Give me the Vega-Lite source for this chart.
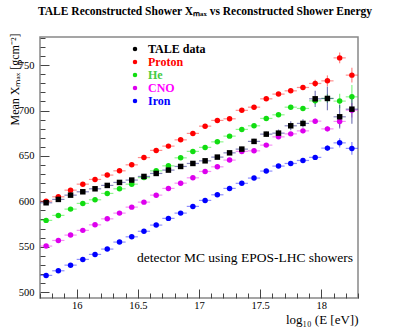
{
  "$schema": "https://vega.github.io/schema/vega-lite/v6.json",
  "width": 318,
  "height": 261,
  "autosize": "none",
  "padding": {"left": 40, "top": 37, "right": 40, "bottom": 34},
  "background": "white",
  "config": {
    "view": {"stroke": "#888888", "strokeWidth": 1.5},
    "font": "Liberation Serif"
  },
  "title": {
    "text": "TALE Reconstructed Shower Xₘₐₓ vs Reconstructed Shower Energy",
    "font": "Liberation Serif",
    "fontWeight": "bold",
    "fontSize": 11.5,
    "anchor": "middle",
    "dx": 6,
    "offset": 16,
    "color": "black"
  },
  "data": {
    "values": [
      {"s":"Proton","E":15.75,"X":600.2,"err":1.2,"dE":0.05},
      {"s":"Proton","E":15.85,"X":605.0,"err":1.2,"dE":0.05},
      {"s":"Proton","E":15.95,"X":612.3,"err":1.2,"dE":0.05},
      {"s":"Proton","E":16.05,"X":618.9,"err":1.2,"dE":0.05},
      {"s":"Proton","E":16.15,"X":624.1,"err":1.2,"dE":0.05},
      {"s":"Proton","E":16.25,"X":628.9,"err":1.2,"dE":0.05},
      {"s":"Proton","E":16.35,"X":633.6,"err":1.2,"dE":0.05},
      {"s":"Proton","E":16.45,"X":640.2,"err":1.2,"dE":0.05},
      {"s":"Proton","E":16.55,"X":648.2,"err":1.2,"dE":0.05},
      {"s":"Proton","E":16.65,"X":656.1,"err":1.2,"dE":0.05},
      {"s":"Proton","E":16.75,"X":660.8,"err":1.2,"dE":0.05},
      {"s":"Proton","E":16.85,"X":667.7,"err":1.2,"dE":0.05},
      {"s":"Proton","E":16.95,"X":674.8,"err":1.2,"dE":0.05},
      {"s":"Proton","E":17.05,"X":682.8,"err":1.5,"dE":0.05},
      {"s":"Proton","E":17.15,"X":689.1,"err":1.5,"dE":0.05},
      {"s":"Proton","E":17.25,"X":690.9,"err":1.5,"dE":0.05},
      {"s":"Proton","E":17.35,"X":700.2,"err":1.5,"dE":0.05},
      {"s":"Proton","E":17.45,"X":703.7,"err":1.5,"dE":0.05},
      {"s":"Proton","E":17.55,"X":712.9,"err":1.5,"dE":0.05},
      {"s":"Proton","E":17.65,"X":718.1,"err":2,"dE":0.05},
      {"s":"Proton","E":17.75,"X":721.7,"err":2,"dE":0.05},
      {"s":"Proton","E":17.85,"X":725.4,"err":2.5,"dE":0.05},
      {"s":"Proton","E":17.95,"X":729.8,"err":4,"dE":0.05},
      {"s":"Proton","E":18.05,"X":732.7,"err":6,"dE":0.05},
      {"s":"Proton","E":18.15,"X":758.0,"err":6,"dE":0.05},
      {"s":"Proton","E":18.25,"X":739.0,"err":8,"dE":0.05},
      {"s":"He","E":15.75,"X":579.0,"err":1.2,"dE":0.05},
      {"s":"He","E":15.85,"X":584.5,"err":1.2,"dE":0.05},
      {"s":"He","E":15.95,"X":591.4,"err":1.2,"dE":0.05},
      {"s":"He","E":16.05,"X":597.7,"err":1.2,"dE":0.05},
      {"s":"He","E":16.15,"X":601.7,"err":1.2,"dE":0.05},
      {"s":"He","E":16.25,"X":608.7,"err":1.2,"dE":0.05},
      {"s":"He","E":16.35,"X":613.8,"err":1.2,"dE":0.05},
      {"s":"He","E":16.45,"X":618.9,"err":1.2,"dE":0.05},
      {"s":"He","E":16.55,"X":626.1,"err":1.2,"dE":0.05},
      {"s":"He","E":16.65,"X":633.6,"err":1.2,"dE":0.05},
      {"s":"He","E":16.75,"X":639.1,"err":1.2,"dE":0.05},
      {"s":"He","E":16.85,"X":647.9,"err":1.2,"dE":0.05},
      {"s":"He","E":16.95,"X":655.0,"err":1.2,"dE":0.05},
      {"s":"He","E":17.05,"X":659.4,"err":1.5,"dE":0.05},
      {"s":"He","E":17.15,"X":665.5,"err":1.5,"dE":0.05},
      {"s":"He","E":17.25,"X":671.8,"err":1.5,"dE":0.05},
      {"s":"He","E":17.35,"X":679.2,"err":1.5,"dE":0.05},
      {"s":"He","E":17.45,"X":683.2,"err":1.5,"dE":0.05},
      {"s":"He","E":17.55,"X":691.3,"err":1.5,"dE":0.05},
      {"s":"He","E":17.65,"X":695.3,"err":2,"dE":0.05},
      {"s":"He","E":17.75,"X":703.7,"err":2,"dE":0.05},
      {"s":"He","E":17.85,"X":702.3,"err":2.5,"dE":0.05},
      {"s":"He","E":17.95,"X":710.7,"err":4,"dE":0.05},
      {"s":"He","E":18.05,"X":713.3,"err":5,"dE":0.05},
      {"s":"He","E":18.15,"X":710.4,"err":8,"dE":0.05},
      {"s":"He","E":18.25,"X":715.1,"err":13,"dE":0.05},
      {"s":"CNO","E":15.75,"X":550.7,"err":1.2,"dE":0.05},
      {"s":"CNO","E":15.85,"X":556.9,"err":1.2,"dE":0.05},
      {"s":"CNO","E":15.95,"X":562.8,"err":1.2,"dE":0.05},
      {"s":"CNO","E":16.05,"X":568.0,"err":1.2,"dE":0.05},
      {"s":"CNO","E":16.15,"X":574.1,"err":1.2,"dE":0.05},
      {"s":"CNO","E":16.25,"X":580.7,"err":1.2,"dE":0.05},
      {"s":"CNO","E":16.35,"X":587.0,"err":1.2,"dE":0.05},
      {"s":"CNO","E":16.45,"X":593.6,"err":1.2,"dE":0.05},
      {"s":"CNO","E":16.55,"X":599.1,"err":1.2,"dE":0.05},
      {"s":"CNO","E":16.65,"X":606.8,"err":1.2,"dE":0.05},
      {"s":"CNO","E":16.75,"X":614.2,"err":1.2,"dE":0.05},
      {"s":"CNO","E":16.85,"X":620.0,"err":1.2,"dE":0.05},
      {"s":"CNO","E":16.95,"X":625.9,"err":1.2,"dE":0.05},
      {"s":"CNO","E":17.05,"X":632.9,"err":1.5,"dE":0.05},
      {"s":"CNO","E":17.15,"X":638.0,"err":1.5,"dE":0.05},
      {"s":"CNO","E":17.25,"X":645.4,"err":1.5,"dE":0.05},
      {"s":"CNO","E":17.35,"X":655.0,"err":1.5,"dE":0.05},
      {"s":"CNO","E":17.45,"X":655.6,"err":1.5,"dE":0.05},
      {"s":"CNO","E":17.55,"X":661.9,"err":1.5,"dE":0.05},
      {"s":"CNO","E":17.65,"X":671.0,"err":2,"dE":0.05},
      {"s":"CNO","E":17.75,"X":674.3,"err":2,"dE":0.05},
      {"s":"CNO","E":17.85,"X":677.6,"err":2.5,"dE":0.05},
      {"s":"CNO","E":17.95,"X":688.3,"err":3,"dE":0.05},
      {"s":"CNO","E":18.05,"X":679.8,"err":3,"dE":0.05},
      {"s":"CNO","E":18.15,"X":688.0,"err":6,"dE":0.05},
      {"s":"CNO","E":18.25,"X":700.4,"err":8,"dE":0.05},
      {"s":"Iron","E":15.75,"X":518.4,"err":1.2,"dE":0.05},
      {"s":"Iron","E":15.85,"X":523.5,"err":1.2,"dE":0.05},
      {"s":"Iron","E":15.95,"X":529.7,"err":1.2,"dE":0.05},
      {"s":"Iron","E":16.05,"X":536.0,"err":1.2,"dE":0.05},
      {"s":"Iron","E":16.15,"X":541.5,"err":1.2,"dE":0.05},
      {"s":"Iron","E":16.25,"X":547.4,"err":1.2,"dE":0.05},
      {"s":"Iron","E":16.35,"X":555.1,"err":1.2,"dE":0.05},
      {"s":"Iron","E":16.45,"X":560.9,"err":1.2,"dE":0.05},
      {"s":"Iron","E":16.55,"X":567.0,"err":1.2,"dE":0.05},
      {"s":"Iron","E":16.65,"X":573.8,"err":1.2,"dE":0.05},
      {"s":"Iron","E":16.75,"X":581.2,"err":1.2,"dE":0.05},
      {"s":"Iron","E":16.85,"X":587.0,"err":1.2,"dE":0.05},
      {"s":"Iron","E":16.95,"X":594.4,"err":1.2,"dE":0.05},
      {"s":"Iron","E":17.05,"X":601.0,"err":1.5,"dE":0.05},
      {"s":"Iron","E":17.15,"X":607.2,"err":1.5,"dE":0.05},
      {"s":"Iron","E":17.25,"X":614.2,"err":1.5,"dE":0.05},
      {"s":"Iron","E":17.35,"X":619.8,"err":1.5,"dE":0.05},
      {"s":"Iron","E":17.45,"X":625.6,"err":1.5,"dE":0.05},
      {"s":"Iron","E":17.55,"X":633.3,"err":1.5,"dE":0.05},
      {"s":"Iron","E":17.65,"X":638.8,"err":2,"dE":0.05},
      {"s":"Iron","E":17.75,"X":641.7,"err":2,"dE":0.05},
      {"s":"Iron","E":17.85,"X":645.0,"err":2,"dE":0.05},
      {"s":"Iron","E":17.95,"X":648.4,"err":2.5,"dE":0.05},
      {"s":"Iron","E":18.05,"X":658.6,"err":3,"dE":0.05},
      {"s":"Iron","E":18.15,"X":664.4,"err":5,"dE":0.05},
      {"s":"Iron","E":18.25,"X":658.3,"err":7,"dE":0.05},
      {"s":"TALE data","E":15.75,"X":598.4,"err":1.5,"dE":0.05},
      {"s":"TALE data","E":15.85,"X":602.1,"err":1.5,"dE":0.05},
      {"s":"TALE data","E":15.95,"X":606.8,"err":1.5,"dE":0.05},
      {"s":"TALE data","E":16.05,"X":610.5,"err":1.5,"dE":0.05},
      {"s":"TALE data","E":16.15,"X":613.8,"err":1.5,"dE":0.05},
      {"s":"TALE data","E":16.25,"X":617.5,"err":1.5,"dE":0.05},
      {"s":"TALE data","E":16.35,"X":620.8,"err":1.5,"dE":0.05},
      {"s":"TALE data","E":16.45,"X":623.4,"err":1.5,"dE":0.05},
      {"s":"TALE data","E":16.55,"X":627.4,"err":1.5,"dE":0.05},
      {"s":"TALE data","E":16.65,"X":630.7,"err":1.5,"dE":0.05},
      {"s":"TALE data","E":16.75,"X":634.4,"err":1.5,"dE":0.05},
      {"s":"TALE data","E":16.85,"X":638.4,"err":1.5,"dE":0.05},
      {"s":"TALE data","E":16.95,"X":641.7,"err":1.5,"dE":0.05},
      {"s":"TALE data","E":17.05,"X":644.6,"err":1.8,"dE":0.05},
      {"s":"TALE data","E":17.15,"X":648.7,"err":1.8,"dE":0.05},
      {"s":"TALE data","E":17.25,"X":653.4,"err":2,"dE":0.05},
      {"s":"TALE data","E":17.35,"X":657.5,"err":2.5,"dE":0.05},
      {"s":"TALE data","E":17.45,"X":666.0,"err":3,"dE":0.05},
      {"s":"TALE data","E":17.55,"X":674.0,"err":3,"dE":0.05},
      {"s":"TALE data","E":17.65,"X":675.1,"err":4,"dE":0.05},
      {"s":"TALE data","E":17.75,"X":683.2,"err":5,"dE":0.05},
      {"s":"TALE data","E":17.85,"X":685.8,"err":4.5,"dE":0.05},
      {"s":"TALE data","E":17.95,"X":712.9,"err":9,"dE":0.05},
      {"s":"TALE data","E":18.05,"X":713.3,"err":13,"dE":0.05},
      {"s":"TALE data","E":18.15,"X":693.1,"err":13,"dE":0.05},
      {"s":"TALE data","E":18.25,"X":701.5,"err":16,"dE":0.05}
    ]
  },
  "resolve": {"scale": {"color": "independent"}, "axis": {"x": "independent", "y": "independent"}},
  "layer": [
    {
      "mark": {"type": "errorbar", "ticks": false, "rule": {"strokeWidth": 1.2, "opacity": 0.55}},
      "encoding": {
        "x": {"field": "E", "type": "quantitative", "title": null,
          "scale": {"domain": [15.7, 18.3], "nice": false, "zero": false},
          "axis": {
            "orient": "bottom",
            "values": [15.7,15.8,15.9,16.0,16.1,16.2,16.3,16.4,16.5,16.6,16.7,16.8,16.9,17.0,17.1,17.2,17.3,17.4,17.5,17.6,17.7,17.8,17.9,18.0,18.1,18.2,18.3],
            "tickCount": 200,
            "labels": false,
            "domain": false,
            "grid": false,
            "tickColor": "#444444",
            "tickSize": {"condition": {"test": "abs(datum.value*2 - round(datum.value*2)) < 0.001", "value": -9}, "value": -5}
          }},
        "xError": {"field": "dE"},
        "y": {"field": "X", "type": "quantitative", "title": null,
          "scale": {"domain": [493.5, 781], "nice": false, "zero": false},
          "axis": {
            "orient": "left",
            "values": [500,510,520,530,540,550,560,570,580,590,600,610,620,630,640,650,660,670,680,690,700,710,720,730,740,750,760,770,780],
            "tickCount": 200,
            "labels": false,
            "domain": false,
            "grid": false,
            "tickColor": "#444444",
            "tickSize": {"condition": {"test": "datum.value % 50 === 0", "value": -9}, "value": -5}
          }},
        "color": {"field": "s", "type": "nominal", "legend": null,
          "scale": {"domain": ["TALE data","Proton","He","CNO","Iron"], "range": ["#222288","#ff3333","#33ee33","#ee33ee","#3333ff"]}}
      }
    },
    {
      "mark": {"type": "errorbar", "ticks": false, "rule": {"strokeWidth": 1.2, "opacity": 0.6}},
      "encoding": {
        "x": {"field": "E", "type": "quantitative", "title": "log₁₀ (E [eV])",
          "axis": {
            "orient": "bottom",
            "values": [16, 16.5, 17, 17.5, 18],
            "format": "~g",
            "tickCount": 200,
            "ticks": false,
            "domain": false,
            "grid": false,
            "labelPadding": 2,
            "labelOverlap": false,
            "labelFont": "Liberation Serif",
            "labelFontSize": 10.5,
            "labelColor": "black",
            "labelFlush": false,
            "titleFont": "Liberation Serif",
            "titleFontSize": 13,
            "titleFontWeight": "normal",
            "titleColor": "black",
            "titleAnchor": "end",
            "titleAlign": "right",
            "titleBaseline": "alphabetic",
            "titleX": 318,
            "titleY": 25
          }},
        "y": {"field": "X", "type": "quantitative", "title": "Mean Xₘₐₓ [gcm⁻²]",
          "axis": {
            "orient": "left",
            "values": [500, 550, 600, 650, 700, 750],
            "tickCount": 200,
            "ticks": false,
            "domain": false,
            "grid": false,
            "labelPadding": 6,
            "labelOverlap": false,
            "labelFont": "Liberation Serif",
            "labelFontSize": 10.5,
            "labelColor": "black",
            "labelFlush": false,
            "titleFont": "Liberation Serif",
            "titleFontSize": 12,
            "titleFontWeight": "normal",
            "titleColor": "black",
            "titleAnchor": "end",
            "titleAngle": -90,
            "titleAlign": "right",
            "titleBaseline": "alphabetic",
            "titleX": -22,
            "titleY": -4
          }},
        "yError": {"field": "err"},
        "color": {"field": "s", "type": "nominal", "legend": null,
          "scale": {"domain": ["TALE data","Proton","He","CNO","Iron"], "range": ["#222288","#ff3333","#33ee33","#ee33ee","#3333ff"]}}
      }
    },
    {
      "mark": {"type": "point", "filled": true, "opacity": 1, "size": 30},
      "encoding": {
        "x": {"field": "E", "type": "quantitative", "axis": null},
        "y": {"field": "X", "type": "quantitative", "axis": null},
        "color": {"field": "s", "type": "nominal",
          "scale": {"domain": ["TALE data","Proton","He","CNO","Iron"], "range": ["#000000","#ff0000","#11dd11","#dd00ee","#0000ff"]},
          "legend": {
            "title": null,
            "orient": "none",
            "legendX": 89,
            "legendY": 6,
            "padding": 0,
            "symbolSize": 20,
            "labelFont": "Liberation Serif",
            "labelFontSize": 12,
            "labelFontWeight": "bold",
            "labelOffset": 7,
            "rowPadding": 1,
            "labelColor": {"expr": "datum.label === 'Proton' ? '#ff0000' : datum.label === 'He' ? '#44cc44' : datum.label === 'CNO' ? '#ff00ff' : datum.label === 'Iron' ? '#0000ff' : '#000000'"}
          }},
        "shape": {"field": "s", "type": "nominal",
          "scale": {"domain": ["TALE data","Proton","He","CNO","Iron"], "range": ["square","circle","circle","circle","circle"]},
          "legend": null}
      }
    },
    {
      "data": {"values": [{"E": 18.26, "X": 533, "t": "detector MC using EPOS-LHC showers"}]},
      "mark": {"type": "text", "align": "right", "baseline": "alphabetic", "font": "Liberation Serif", "fontSize": 13.5, "color": "black"},
      "encoding": {
        "x": {"field": "E", "type": "quantitative", "axis": null},
        "y": {"field": "X", "type": "quantitative", "axis": null},
        "text": {"field": "t"}
      }
    }
  ]
}
